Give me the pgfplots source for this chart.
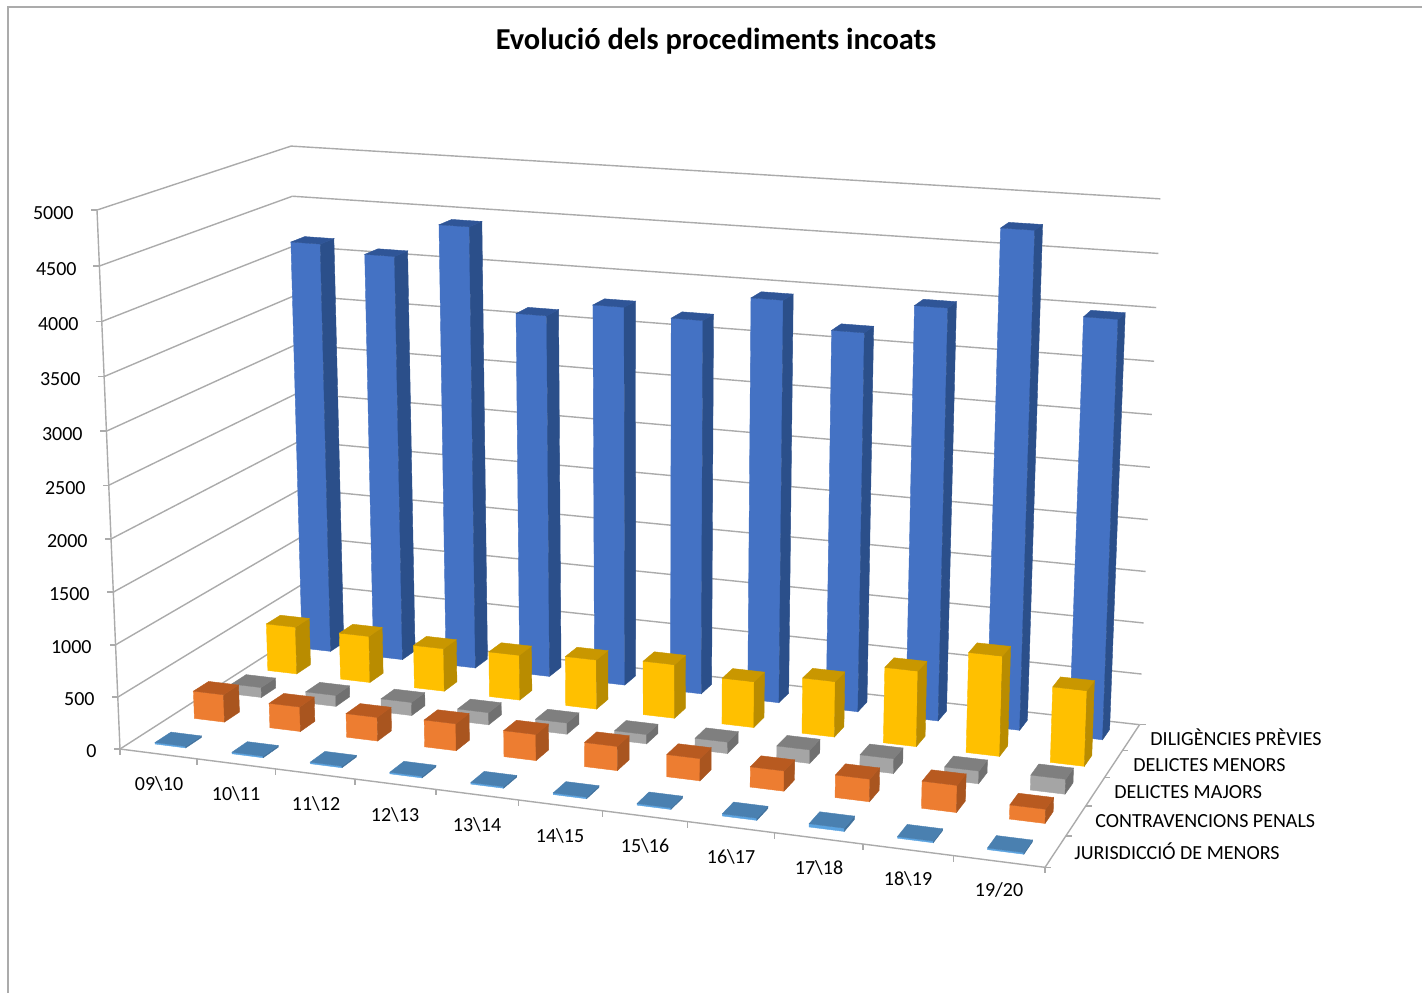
\documentclass[border=0pt]{standalone}
\usepackage{fontspec}
\setmainfont{Carlito}
\usepackage{pgfplots}
\usepackage{pgfplotstable}
\pgfplotsset{compat=1.18}

% series values, one row per year
\pgfplotstableread{
cat jm  cp  dj  dn   dp
0   15  270 100 480  4150
1   15  240 110 470  4080
2   15  230 130 430  4420
3   15  260 120 450  3610
4   15  250 110 490  3750
5   15  230 90  530  3680
6   15  210 110 450  3930
7   20  190 130 540  3680
8   30  210 140 730  3970
9   15  250 120 960  4740
10  15  130 140 720  3980
}\data

% faces of a unit bar
\pgfplotstableread{
a b h
0 0 0
1 0 0
1 0 1
0 0 1
}\frontface
\pgfplotstableread{
a b h
1 0 0
1 1 0
1 1 1
1 0 1
}\sideface
\pgfplotstableread{
a b h
0 0 1
1 0 1
1 1 1
0 1 1
}\topface
\pgfplotstableread{
t s
0 0
1 1
}\seg

% perspective of the chart box: category, depth, value to picture pixels
\pgfmathdeclarefunction{scrx}{3}{\pgfmathparse{(120+828.9*(#1)/11+220.3*(#2)/5-27.05*(#3)/5000)/(1-0.092*(#1)/11+0.118*(#2)/5-0.0418*(#3)/5000)}}
\pgfmathdeclarefunction{scry}{3}{\pgfmathparse{(749+38.5*(#1)/11-44*(#2)/5-547.8*(#3)/5000)/(1-0.092*(#1)/11+0.118*(#2)/5-0.0418*(#3)/5000)}}

\definecolor{bluef}{HTML}{4472C4}\definecolor{blues}{HTML}{2B4F8A}\definecolor{bluet}{HTML}{2F5597}
\definecolor{yelf}{HTML}{FFC000}\definecolor{yels}{HTML}{B98C00}\definecolor{yelt}{HTML}{C99700}
\definecolor{gryf}{HTML}{A5A5A5}\definecolor{grys}{HTML}{707070}\definecolor{gryt}{HTML}{7F7F7F}
\definecolor{orgf}{HTML}{ED7D31}\definecolor{orgs}{HTML}{A9551F}\definecolor{orgt}{HTML}{B85A20}
\definecolor{lblf}{HTML}{5BA3E0}\definecolor{lbls}{HTML}{41719C}\definecolor{lblt}{HTML}{4A80B0}
\definecolor{gridc}{HTML}{ABABAB}

\newcommand\face[5]{% colour, face, category, depth, value
  \addplot[fill=#1,draw=#1,line width=0.2pt,mark=none] table[
    x expr={scrx(#3+0.3+0.4*\thisrow{a},#4+0.3+0.4*\thisrow{b},#5*\thisrow{h})},
    y expr={scry(#3+0.3+0.4*\thisrow{a},#4+0.3+0.4*\thisrow{b},#5*\thisrow{h})},
  ] {#2} --cycle;
}
\newcommand\barrow[3]{% column, depth, colour prefix
  \pgfplotsinvokeforeach{0,...,10}{
    \pgfplotstablegetelem{##1}{#1}\of\data
    \let\val\pgfplotsretval
    \face{#3f}{\frontface}{##1}{#2}{\val}
    \face{#3s}{\sideface}{##1}{#2}{\val}
    \face{#3t}{\topface}{##1}{#2}{\val}
  }
}
\newcommand\gline[2]{% world expressions for x and y in t
  \addplot[gridc,line width=0.7pt,mark=none] table[x expr={#1},y expr={#2}] {\seg};
}

\begin{document}
\begin{tikzpicture}
\begin{axis}[
    scale only axis,
    width=711pt, height=496.5pt,
    xmin=0, xmax=1422,
    ymin=0, ymax=993,
    y dir=reverse,
    xtick=\empty, ytick=\empty,
    axis line style={draw=none},
    clip=true,
]
% outer frame
\addplot[color=gridc,line width=0.6pt,mark=none] coordinates {(8,993)(8,7)(1422,7)};

% walls
\pgfplotsinvokeforeach{0,500,...,5000}{
  \gline{scrx(0,5*\thisrow{t},#1)}{scry(0,5*\thisrow{t},#1)}
  \gline{scrx(11*\thisrow{t},5,#1)}{scry(11*\thisrow{t},5,#1)}
  \gline{scrx(0,0,#1)-6*\thisrow{t}}{scry(0,0,#1)}
}
% floor edges and ticks
\gline{scrx(0,0,5000*\thisrow{t})}{scry(0,0,5000*\thisrow{t})}
\gline{scrx(11*\thisrow{t},0,0)}{scry(11*\thisrow{t},0,0)}
\gline{scrx(11,5*\thisrow{t},0)}{scry(11,5*\thisrow{t},0)}
\pgfplotsinvokeforeach{0,...,11}{
  \gline{scrx(#1,0,0)}{scry(#1,0,0)+6*\thisrow{t}}
}
\pgfplotsinvokeforeach{0,...,5}{
  \gline{scrx(11,#1,0)+6*\thisrow{t}}{scry(11,#1,0)}
}

% bars, back row first
\barrow{dp}{4}{blue}
\barrow{dn}{3}{yel}
\barrow{dj}{2}{gry}
\barrow{cp}{1}{org}
\barrow{jm}{0}{lbl}

% title
\node[font=\fontsize{15.2}{18}\selectfont\bfseries,anchor=center] at (axis cs:716,41) {Evolució dels procediments incoats};

% value labels
\tikzset{lab/.style={font=\fontsize{10}{12}\selectfont,text=black,inner sep=0pt}}
\node[lab,anchor=east] at (axis cs:74,213) {5000};
\node[lab,anchor=east] at (axis cs:77,269) {4500};
\node[lab,anchor=east] at (axis cs:79,324) {4000};
\node[lab,anchor=east] at (axis cs:81,379) {3500};
\node[lab,anchor=east] at (axis cs:83,434) {3000};
\node[lab,anchor=east] at (axis cs:86,488) {2500};
\node[lab,anchor=east] at (axis cs:88,541) {2000};
\node[lab,anchor=east] at (axis cs:90,594) {1500};
\node[lab,anchor=east] at (axis cs:92,647) {1000};
\node[lab,anchor=east] at (axis cs:95,699) {500};
\node[lab,anchor=east] at (axis cs:97,751) {0};

% years
\node[lab] at (axis cs:159,784) {09\textbackslash 10};
\node[lab] at (axis cs:236,794) {10\textbackslash 11};
\node[lab] at (axis cs:316,804) {11\textbackslash 12};
\node[lab] at (axis cs:395,815) {12\textbackslash 13};
\node[lab] at (axis cs:477,825) {13\textbackslash 14};
\node[lab] at (axis cs:560,836) {14\textbackslash 15};
\node[lab] at (axis cs:645,846) {15\textbackslash 16};
\node[lab] at (axis cs:731,857) {16\textbackslash 17};
\node[lab] at (axis cs:819,868) {17\textbackslash 18};
\node[lab] at (axis cs:908,879) {18\textbackslash 19};
\node[lab] at (axis cs:999,890) {19/20};

% series names
\node[lab,anchor=west] at (axis cs:1150,737) {DILIGÈNCIES PRÈVIES};
\node[lab,anchor=west] at (axis cs:1133,765) {DELICTES MENORS};
\node[lab,anchor=west] at (axis cs:1114,792) {DELICTES MAJORS};
\node[lab,anchor=west] at (axis cs:1095,821) {CONTRAVENCIONS PENALS};
\node[lab,anchor=west] at (axis cs:1074,851) {JURISDICCIÓ DE MENORS};
\end{axis}
\end{tikzpicture}
\end{document}
